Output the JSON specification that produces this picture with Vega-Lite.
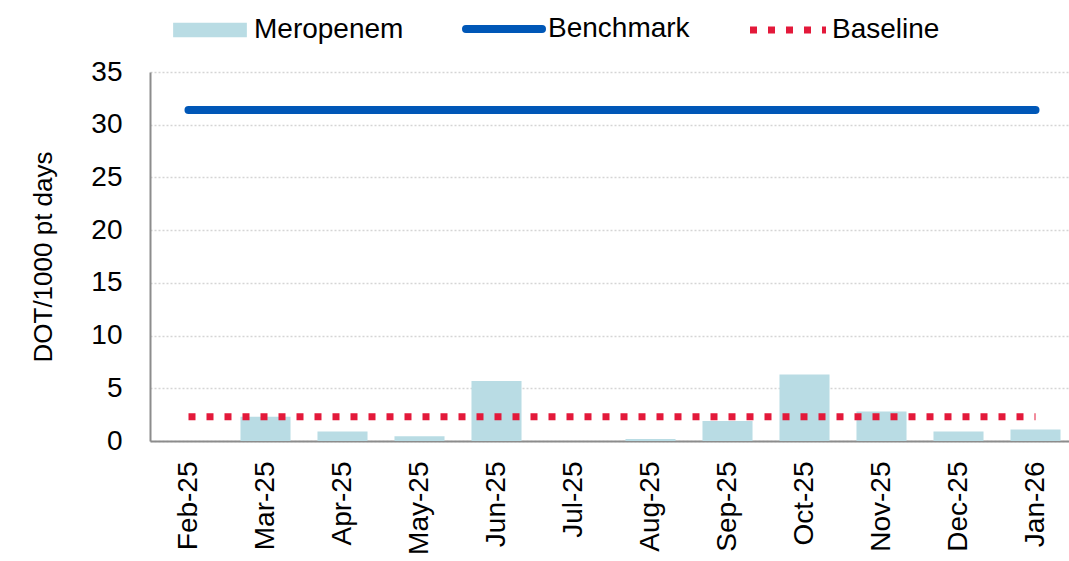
{
  "$schema": "https://vega.github.io/schema/vega-lite/v6.json",
  "autosize": {"type": "none"},
  "padding": {"left": 150, "top": 72, "right": 0, "bottom": 120},
  "width": 924,
  "height": 369,
  "background": "white",
  "config": {
    "font": "Liberation Sans",
    "view": {"stroke": null},
    "axis": {"labelFont": "Liberation Sans", "titleFont": "Liberation Sans", "labelColor": "#000", "titleColor": "#000"}
  },
  "data": {
    "values": [
      {"month": "Feb-25", "meropenem": 0, "benchmark": 31.4, "baseline": 2.3},
      {"month": "Mar-25", "meropenem": 2.3, "benchmark": 31.4, "baseline": 2.3},
      {"month": "Apr-25", "meropenem": 0.9, "benchmark": 31.4, "baseline": 2.3},
      {"month": "May-25", "meropenem": 0.45, "benchmark": 31.4, "baseline": 2.3},
      {"month": "Jun-25", "meropenem": 5.7, "benchmark": 31.4, "baseline": 2.3},
      {"month": "Jul-25", "meropenem": 0, "benchmark": 31.4, "baseline": 2.3},
      {"month": "Aug-25", "meropenem": 0.2, "benchmark": 31.4, "baseline": 2.3},
      {"month": "Sep-25", "meropenem": 1.9, "benchmark": 31.4, "baseline": 2.3},
      {"month": "Oct-25", "meropenem": 6.3, "benchmark": 31.4, "baseline": 2.3},
      {"month": "Nov-25", "meropenem": 2.8, "benchmark": 31.4, "baseline": 2.3},
      {"month": "Dec-25", "meropenem": 0.9, "benchmark": 31.4, "baseline": 2.3},
      {"month": "Jan-26", "meropenem": 1.1, "benchmark": 31.4, "baseline": 2.3}
    ]
  },
  "encoding": {
    "x": {
      "field": "month", "type": "nominal", "sort": null,
      "scale": {"paddingInner": 0.35, "paddingOuter": 0.175},
      "axis": {
        "title": null, "labelAngle": -90, "labelAlign": "right", "labelBaseline": "middle",
        "labelFontSize": 28, "labelPadding": 20, "ticks": false,
        "domainColor": "#8c8c8c", "domainWidth": 2, "grid": false
      }
    }
  },
  "layer": [
    {
      "mark": {"type": "bar"},
      "encoding": {
        "y": {
          "field": "meropenem", "type": "quantitative",
          "scale": {"domain": [0, 35], "nice": false},
          "axis": {
            "title": "DOT/1000 pt days", "titleFontSize": 26, "titleFontWeight": "normal", "titlePadding": 34,
            "values": [0, 5, 10, 15, 20, 25, 30, 35],
            "labelFontSize": 28, "labelPadding": 28, "ticks": false,
            "domainColor": "#8c8c8c", "domainWidth": 2,
            "grid": true, "gridColor": "#d5d5d5", "gridDash": [2, 2], "gridWidth": 1.5
          }
        },
        "color": {
          "datum": "Meropenem", "type": "nominal",
          "scale": {"domain": ["Meropenem", "Benchmark", "Baseline"], "range": ["#b9dce4", "#0057b7", "#e3193a"]},
          "legend": {
            "orient": "none", "legendX": 46, "legendY": -57, "direction": "horizontal", "title": null,
            "padding": 0, "symbolSize": 5776, "labelFontSize": 28, "labelOffset": 30, "columnPadding": 46,
            "labelColor": "#000", "labelFont": "Liberation Sans",
            "encode": {
              "symbols": {
                "update": {
                  "shape": {"signal": "datum.value === 'Meropenem' ? 'M-0.97,-0.19H0.97V0.19H-0.97Z' : 'M-1,0H1'"},
                  "fill": {"signal": "datum.value === 'Meropenem' ? '#b9dce4' : 'transparent'"},
                  "stroke": {"signal": "datum.value === 'Meropenem' ? 'transparent' : (datum.value === 'Benchmark' ? '#0057b7' : '#e3193a')"},
                  "strokeWidth": {"signal": "datum.value === 'Benchmark' ? 8 : (datum.value === 'Baseline' ? 7 : 0)"},
                  "strokeDash": {"signal": "datum.value === 'Baseline' ? [7, 11] : [1, 0]"},
                  "strokeCap": {"signal": "datum.value === 'Benchmark' ? 'round' : 'butt'"},
                  "opacity": {"value": 1}
                }
              }
            }
          }
        }
      }
    },
    {
      "mark": {"type": "line", "strokeWidth": 8, "strokeCap": "round"},
      "encoding": {
        "y": {"field": "benchmark", "type": "quantitative"},
        "color": {"datum": "Benchmark", "type": "nominal"}
      }
    },
    {
      "mark": {"type": "line", "strokeWidth": 7, "strokeDash": [7, 11], "strokeCap": "butt"},
      "encoding": {
        "y": {"field": "baseline", "type": "quantitative"},
        "color": {"datum": "Baseline", "type": "nominal"}
      }
    }
  ]
}
